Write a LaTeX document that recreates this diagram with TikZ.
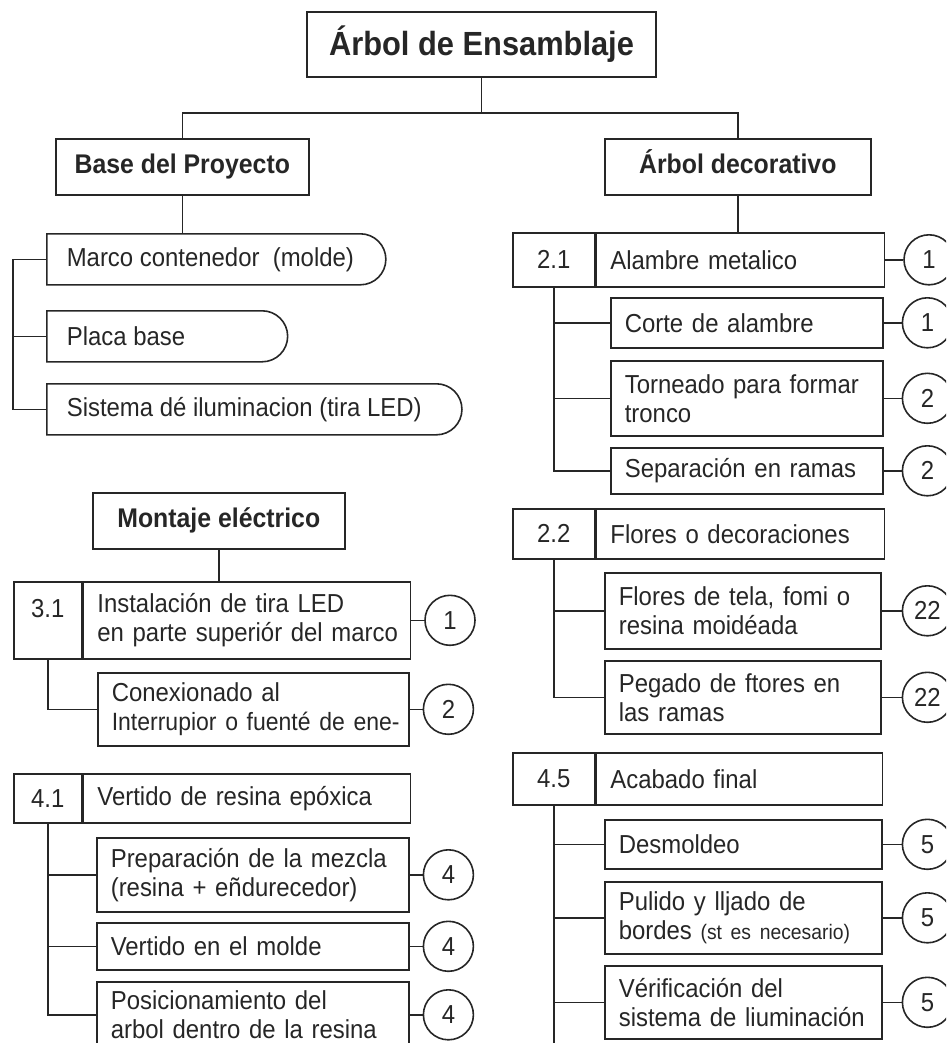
\documentclass[tikz,border=0pt]{standalone}
\usepackage{fontspec}
\setmainfont{Liberation Sans}[FakeStretch=0.92]
\usetikzlibrary{positioning,shapes.misc}

\newcommand\itemfont{\fontsize{26}{29}\selectfont}

\tikzset{
  title/.style={draw, minimum width=349pt, minimum height=65pt, font=\fontsize{33.5}{38}\selectfont\bfseries},
  head/.style={draw, anchor=north west, minimum height=56pt, text height=20pt, text depth=6pt,
    font=\fontsize{27}{30}\selectfont\bfseries},
  pill/.style={draw, rounded rectangle, rounded rectangle left arc=none, anchor=north west,
    minimum height=51pt, inner xsep=20pt, inner ysep=0pt, font=\itemfont},
  numbox/.style={draw, anchor=north west, minimum width=82pt, inner sep=0pt, font=\itemfont},
  item/.style={draw, anchor=north west, align=left, inner xsep=14pt, inner ysep=0pt, font=\itemfont},
  qty/.style={draw, circle, minimum size=50pt, inner sep=0pt, font=\itemfont},
}

\begin{document}
\begin{tikzpicture}[x=1pt, y=-1pt, line width=1.6pt, color=black!85]
    \path[use as bounding box, clip] (0,0) rectangle (946,1043);

    % raiz y ramas principales
    \node[title] (arbol) at (481.5,44.5) {Árbol de Ensamblaje};
    \node[head, minimum width=253pt] (base) at (55,138) {Base del Proyecto};
    \node[head, minimum width=266pt] (deco) at (604,138) {Árbol decorativo};
    \coordinate (split) at ([yshift=-35pt]arbol.south);
    \draw (arbol.south) -- (split);
    \draw (base.north) |- (split) -| (deco.north);

    % base del proyecto
    \node[pill] (marco) at (46,233) {\makebox[296pt][l]{Marco contenedor\ \ (molde)}};
    \node[pill] (placa) at (46,310) {\makebox[199pt][l]{Placa base}};
    \node[pill] (sistema) at (46,383) {\makebox[372pt][l]{Sistema dé iluminacion (tira LED)}};
    \draw (base.south) -- (base.south |- marco.north);
    \draw (marco.west) -- ++(-33,0) |- (sistema.west);
    \draw (placa.west) -- ++(-33,0);

    % montaje electrico
    \node[head, minimum width=252pt] (montaje) at (92,492) {Montaje eléctrico};
    \node[numbox, minimum width=68pt, minimum height=77pt, text depth=23pt] (n31) at (13,581) {3.1};
    \node[item, text width=299pt, minimum height=77pt] (t31) at (n31.north east)
        {\mbox{Instalación de tira LED}\\\mbox{en parte superiór del marco}};
    \node[item, text width=283pt, minimum height=73pt] (conex) at (97,672)
        {\mbox{Conexionado al}\\\mbox{\fontsize{25}{29}\selectfont Interrupior o fuenté de ene-}};
    \draw (montaje.south) -- (montaje.south |- n31.north);
    \draw (n31.south) |- (conex.west);
    \node[qty, right=13pt of t31] (q31) {1};
    \node[qty, right=13pt of conex] (qconex) {2};
    \draw (t31.east) -- (q31);
    \draw (conex.east) -- (qconex);

    % vertido de resina
    \node[numbox, minimum width=68pt, minimum height=49pt] (n41) at (13,773) {4.1};
    \node[item, text width=299pt, minimum height=49pt] (t41) at (n41.north east) {Vertido de resina epóxica};
    \node[item, text width=284pt, minimum height=74pt] (prep) at (96,837)
        {Preparación de la mezcla\\(resina + eñdurecedor)};
    \node[item, text width=284pt, minimum height=47pt] (molde) at (96,922) {Vertido en el molde};
    \node[item, text width=284pt, minimum height=66pt] (posic) at (96,981)
        {Posicionamiento del\\arbol dentro de la resina};
    \foreach \s/\q in {prep/4, molde/4, posic/4} {
        \draw (n41.south) |- (\s.west);
        \node[qty, right=13pt of \s] (q\s) {\q};
        \draw (\s.east) -- (q\s);
    }

    % alambre metalico
    \node[numbox, minimum height=54pt] (n21) at (512,232) {2.1};
    \node[item, text width=260pt, minimum height=54pt] (t21) at (n21.north east) {Alambre metalico};
    \draw (deco.south) -- (deco.south |- t21.north);
    \node[item, text width=244pt, minimum height=50pt] (corte) at (610,297) {Corte de alambre};
    \node[item, text width=244pt, minimum height=75pt] (torneado) at (610,360) {Torneado para formar\\tronco};
    \node[item, text width=244pt, minimum height=46pt] (ramas) at (610,447) {Separación en ramas};
    \node[qty, right=18pt of t21] (q21) {1};
    \draw (t21.east) -- (q21);
    \foreach \s/\q in {corte/1, torneado/2, ramas/2} {
        \draw (n21.south) |- (\s.west);
        \node[qty, right=18pt of \s] (q\s) {\q};
        \draw (\s.east) -- (q\s);
    }

    % flores
    \node[numbox, minimum height=50pt] (n22) at (512,508) {2.2};
    \node[item, text width=260pt, minimum height=50pt] (t22) at (n22.north east) {Flores o decoraciones};
    \node[item, text width=248pt, minimum height=76pt] (tela) at (604,572) {Flores de tela, fomi o\\resina moidéada};
    \node[item, text width=248pt, minimum height=73pt] (pegado) at (604,660) {Pegado de ftores en\\las ramas};
    \foreach \s/\q in {tela/22, pegado/22} {
        \draw (n22.south) |- (\s.west);
        \node[qty, right=20pt of \s] (q\s) {\q};
        \draw (\s.east) -- (q\s);
    }

    % acabado final
    \node[numbox, minimum height=52pt] (n45) at (512,752) {4.5};
    \node[item, text width=258pt, minimum height=52pt] (t45) at (n45.north east) {Acabado final};
    \node[item, text width=249pt, minimum height=49pt] (desm) at (604,819) {Desmoldeo};
    \node[item, text width=249pt, minimum height=72pt] (pulido) at (604,881)
        {Pulido y lljado de\\bordes {\fontsize{21}{29}\selectfont(st es necesario)}};
    \node[item, text width=249pt, minimum height=73pt] (verif) at (604,965)
        {Vérificación del\\sistema de liuminación};
    \draw (n45.south) -- ++(0,260);
    \foreach \s/\q in {desm/5, pulido/5, verif/5} {
        \draw (n45.south) |- (\s.west);
        \node[qty, right=19pt of \s] (q\s) {\q};
        \draw (\s.east) -- (q\s);
    }
\end{tikzpicture}
\end{document}
